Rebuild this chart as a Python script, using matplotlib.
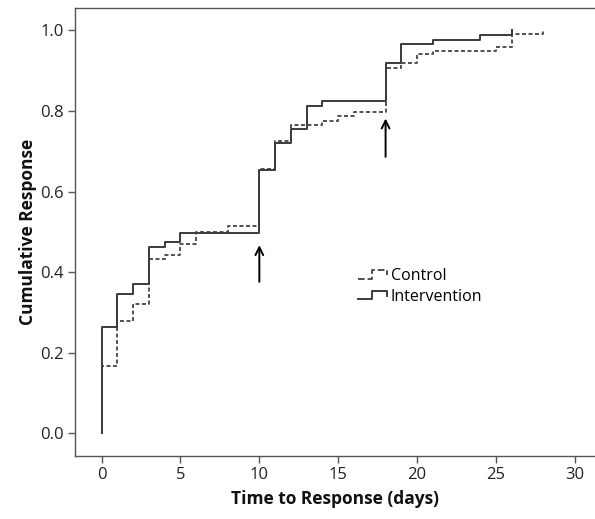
import matplotlib
matplotlib.use("Agg")
import matplotlib.pyplot as plt
from matplotlib.lines import Line2D
from matplotlib.legend_handler import HandlerBase

# ---- data ----
days_intervention = [0, 0, 1, 2, 3, 4, 5, 10, 11, 12, 13, 14, 18, 19, 21, 24, 26]
cum_intervention = [0.0, 0.265, 0.346, 0.370, 0.462, 0.475, 0.498, 0.653, 0.720,
                    0.754, 0.813, 0.824, 0.918, 0.966, 0.976, 0.989, 1.0]

days_control = [0, 0, 1, 2, 3, 4, 5, 6, 8, 10, 11, 12, 14, 15, 16, 18, 19, 20, 21, 25, 26, 28]
cum_control = [0.0, 0.168, 0.280, 0.320, 0.432, 0.442, 0.471, 0.500, 0.514, 0.657, 0.725,
               0.765, 0.775, 0.787, 0.798, 0.907, 0.918, 0.940, 0.949, 0.959, 0.990, 1.0]

arrow_days = [10, 18]
arrow_tail = [0.376, 0.686]
arrow_head = [0.467, 0.781]

x_ticks = [0, 5, 10, 15, 20, 25, 30]
y_ticks = [0.0, 0.2, 0.4, 0.6, 0.8, 1.0]

plt.rcParams['font.family'] = ['Open Sans', 'DejaVu Sans']

fig = plt.figure(figsize=(5.95, 5.19), dpi=100)
ax = fig.add_axes([75 / 595, 1 - 456 / 519, 1 - 75 / 595, (456 - 8) / 519])

line_col = '#3a3a3a'
ax.step(days_control, cum_control, where='post', color='#444444', lw=1.3,
        linestyle=(0, (2.2, 1.4)), label='Control')
ax.step(days_intervention, cum_intervention, where='post', color=line_col, lw=1.4,
        label='Intervention')

for d, t, h in zip(arrow_days, arrow_tail, arrow_head):
    ax.annotate('', xy=(d, h), xytext=(d, t),
                arrowprops=dict(arrowstyle='->', color='black', lw=1.4,
                                mutation_scale=14, shrinkA=0, shrinkB=0))

ax.set_xlim(-1.68, 31.27)
ax.set_ylim(-0.0558, 1.055)
ax.set_xticks(x_ticks)
ax.set_yticks(y_ticks)
ax.set_yticklabels([f'{v:.1f}' for v in y_ticks])

for s in ['left', 'bottom', 'top']:
    ax.spines[s].set_color('#555555')
    ax.spines[s].set_linewidth(1.0)
ax.spines['right'].set_visible(False)
ax.tick_params(direction='out', length=5, width=1, color='#555555',
               labelsize=12, labelcolor='#222222', pad=3)

ax.set_xlabel('Time to Response (days)', fontsize=12.5, fontweight='bold',
              color='#111111', labelpad=5)
ax.set_ylabel('Cumulative Response', fontsize=12.5, fontweight='bold',
              color='#111111', labelpad=2)


class StepHandler(HandlerBase):
    def create_artists(self, legend, orig_handle, xdescent, ydescent,
                       width, height, fontsize, trans):
        xs = [0, 0.45 * width, 0.45 * width, 0.95 * width, 0.95 * width]
        ys = [0.15 * height, 0.15 * height, 0.9 * height, 0.9 * height, 0.45 * height]
        ln = Line2D([x - xdescent for x in xs], [y - ydescent for y in ys],
                    color=orig_handle.get_color(), lw=orig_handle.get_linewidth(),
                    linestyle=orig_handle.get_linestyle())
        ln.set_transform(trans)
        return [ln]


handles, labels = ax.get_legend_handles_labels()
ax.legend(handles, labels, handler_map={h: StepHandler() for h in handles},
          loc='center left', bbox_to_anchor=(0.544, 0.378), frameon=False,
          fontsize=11.5, handlelength=1.9, handletextpad=0.15, labelspacing=0.3,
          borderpad=0, borderaxespad=0)

fig.savefig('out.png', dpi=100)
